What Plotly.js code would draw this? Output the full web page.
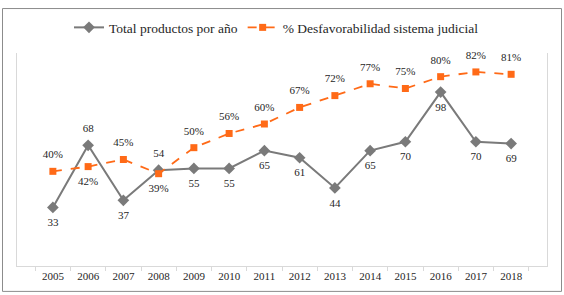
<!DOCTYPE html>
<html>
<head>
<meta charset="utf-8">
<script src="https://cdn.plot.ly/plotly-3.0.1.min.js"></script>
<style>html,body{margin:0;padding:0;background:#fff;}#chart{width:564px;height:295px;}</style>
</head>
<body>
<div id="chart"></div>
<script>
const years = ["2005","2006","2007","2008","2009","2010","2011","2012","2013","2014","2015","2016","2017","2018"];
const totalProductos = [33, 68, 37, 54, 55, 55, 65, 61, 44, 65, 70, 98, 70, 69];
const totalPos = ["bottom center","top center","bottom center","top center","bottom center","bottom center","bottom center","bottom center","bottom center","bottom center","bottom center","bottom center","bottom center","bottom center"];
const desfavorabilidad = [40, 42, 45, 39, 50, 56, 60, 67, 72, 77, 75, 80, 82, 81];
const desfPos = ["top center","bottom center","top center","bottom center","top center","top center","top center","top center","top center","top center","top center","top center","top center","top center"];

const FONT = "Liberation Serif";
const GRAY = "#7a7a7a";
const ORANGE = "#ff6a17";
const TXT = {family: FONT, size: 11, color: "#262626"};

const traces = [
  {
    x: years, y: totalProductos, name: "Total productos por año",
    type: "scatter", mode: "lines+markers",
    line: {color: GRAY, width: 2},
    marker: {symbol: "diamond", size: 9, color: GRAY},
    cliponaxis: false, yaxis: "y"
  },
  {
    x: years, y: desfavorabilidad, name: "% Desfavorabilidad sistema judicial",
    type: "scatter", mode: "lines+markers",
    line: {color: ORANGE, width: 1.8, dash: "dash"},
    marker: {symbol: "square", size: 7, color: ORANGE},
    cliponaxis: false, yaxis: "y2"
  },
  {
    x: years, y: totalProductos, showlegend: false, hoverinfo: "skip",
    type: "scatter", mode: "markers+text",
    marker: {size: 15, color: "rgba(0,0,0,0)"},
    text: totalProductos.map(String), textposition: totalPos, textfont: TXT,
    cliponaxis: false, yaxis: "y"
  },
  {
    x: years, y: desfavorabilidad, showlegend: false, hoverinfo: "skip",
    type: "scatter", mode: "markers+text",
    marker: {size: 15, color: "rgba(0,0,0,0)"},
    text: desfavorabilidad.map(v => v + "%"), textposition: desfPos, textfont: TXT,
    cliponaxis: false, yaxis: "y2"
  }
];

const L = 17, R = 547, T = 48, B = 266, W = 564, H = 295;
const layout = {
  width: W, height: H,
  margin: {l: L, r: W - R, t: T, b: H - B, pad: 0},
  paper_bgcolor: "#fff", plot_bgcolor: "#fff",
  font: {family: FONT, color: "#262626"},
  showlegend: true,
  legend: {orientation: "h", x: 0.5 - 5.5 / (R - L), xanchor: "center", y: 1 + (T - 22) / (B - T), yanchor: "middle",
           font: {family: FONT, size: 13.5, color: "#262626"}, traceorder: "normal", itemwidth: 30},
  xaxis: {
    type: "category", showgrid: false, zeroline: false,
    showline: true, linecolor: "#d9d9d9", linewidth: 1,
    ticks: "outside", tickson: "boundaries", ticklen: 4, tickcolor: "#d9d9d9",
    tickfont: {family: FONT, size: 11, color: "#262626"}
  },
  yaxis: {range: [0, 120], showgrid: false, zeroline: false, showticklabels: false,
          showline: true, linecolor: "#d9d9d9", linewidth: 1, ticks: ""},
  yaxis2: {range: [0, 90], overlaying: "y", side: "right", showgrid: false, zeroline: false,
           showticklabels: false, showline: true, linecolor: "#d9d9d9", linewidth: 1, ticks: ""},
  shapes: [{
    type: "rect", xref: "paper", yref: "paper",
    x0: (2.5 - L) / (R - L), x1: (561.5 - L) / (R - L),
    y0: (B - 292) / (B - T), y1: (B - 2.5) / (B - T),
    line: {color: "#8c8c8c", width: 1}, fillcolor: "rgba(0,0,0,0)", layer: "below"
  }]
};

Plotly.newPlot("chart", traces, layout, {displayModeBar: false, staticPlot: true});
</script>
</body>
</html>
